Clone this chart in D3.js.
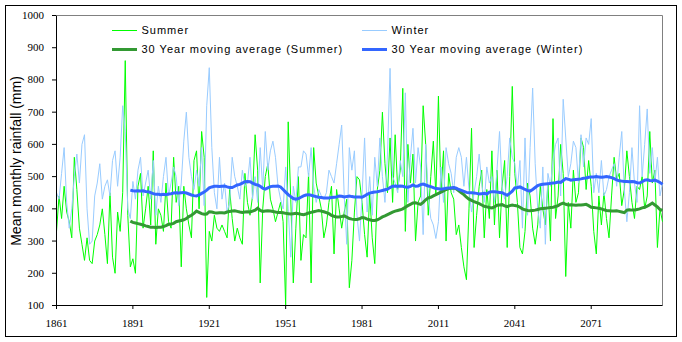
<!DOCTYPE html>
<html><head><meta charset="utf-8">
<script src="https://cdn.jsdelivr.net/npm/d3@7"></script>
<style>body{margin:0;background:#fff}svg{display:block}</style>
</head><body><svg id="c" width="682" height="342"></svg>
<script>
// ---- DATA ----
const firstYear = 1861;          // first category
const maFirstYear = 1890;        // first year of the 30-year moving averages
const xTickLabels = ["1861","1891","1921","1951","1981","2011","2041","2071"];
const yTickValues = [100,200,300,400,500,600,700,800,900,1000];
const seriesNames = ["Summer","Winter","30 Year moving average (Summer)","30 Year moving average (Winter)"];
const yTitle = "Mean monthly rainfall (mm)";

const summer = [
 330,440,370,470,390,360,310,560,460,340,
 290,240,310,240,230,300,320,350,400,320,
 230,450,250,200,390,330,450,860,380,220,
 245,200,470,510,340,400,470,350,580,290,
 400,380,330,480,360,340,560,420,470,220,
 470,400,350,310,550,580,400,640,560,125,
 330,300,380,340,330,350,330,310,460,370,
 300,340,310,290,510,420,380,440,630,520,
 170,400,500,540,430,400,360,390,420,360,
 100,670,430,170,340,500,240,320,310,510,
 170,590,480,440,400,310,350,420,470,260,
 460,400,340,390,430,155,240,390,500,490,
 420,320,250,450,310,230,460,520,700,540,
 450,620,420,630,460,520,774,330,600,480,
 570,300,420,440,720,600,380,500,610,440,
 750,450,580,300,510,450,430,320,350,280,
 220,180,400,650,280,380,470,520,310,460,
 370,580,350,520,310,470,550,280,500,780,
 510,420,280,260,330,480,440,340,290,350,
 470,400,350,480,300,680,370,440,600,510,
 190,420,340,520,420,450,620,590,460,550,
 470,330,260,440,350,450,370,310,440,560,
 490,510,410,460,580,500,420,370,470,460,
 500,400,440,640,480,520,280,400,360
];
const winter = [
 450,430,510,590,420,340,400,500,570,480,
 600,630,400,290,300,440,480,540,430,470,
 490,440,550,580,470,560,720,640,400,370,
 485,430,520,560,440,480,520,430,550,380,
 470,420,500,560,440,480,530,500,410,480,
 610,700,560,500,460,520,470,590,410,720,
 838,590,450,400,560,430,480,390,420,560,
 500,470,430,520,470,480,560,430,500,420,
 590,460,640,520,580,610,560,470,430,400,
 530,400,250,470,420,530,530,580,570,500,
 590,470,420,460,440,430,450,520,500,480,
 540,600,660,440,290,590,520,580,380,300,
 440,620,390,500,380,560,470,620,500,420,
 570,836,500,480,450,550,500,760,420,560,
 650,480,590,530,320,600,440,370,350,308,
 360,530,420,590,540,510,450,560,590,560,
 470,560,460,390,450,500,570,480,420,530,
 480,500,420,520,640,470,430,500,620,560,
 540,460,550,340,620,380,590,775,540,400,
 340,530,290,510,470,550,600,620,440,740,
 620,500,540,610,590,480,630,530,620,600,
 680,450,510,450,550,440,460,500,520,540,
 470,560,640,460,360,450,590,480,420,720,
 500,600,710,510,590,480,560,440,480
];
const summerMA = [
 362,358,356,354,352,350,347,345,343,343,
 342,343,343,345,348,352,353,355,360,362,
 364,366,370,376,380,386,393,389,385,383,
 384,391,390,388,387,388,388,387,390,392,
 393,394,392,390,389,390,391,390,393,396,
 402,395,392,393,394,393,392,390,389,389,
 388,386,385,384,385,386,385,383,382,384,
 387,389,391,393,395,393,391,388,385,380,
 377,375,375,376,378,374,370,368,367,367,
 369,373,372,368,366,364,364,366,370,375,
 378,382,386,390,393,395,397,400,405,410,
 414,418,419,416,414,420,428,434,436,440,
 444,448,452,456,460,463,464,465,462,456,
 450,444,436,430,426,422,419,416,412,408,
 406,404,403,406,411,412,413,409,407,410,
 412,410,409,405,400,397,395,394,395,396,
 398,400,401,402,403,404,405,407,410,415,
 418,414,412,413,412,411,412,412,413,414,
 410,405,404,403,402,400,397,395,394,393,
 393,394,392,390,388,396,397,396,396,398,
 400,403,405,408,413,418,412,406,398,395
];
const winterMA = [
 458,456,455,456,455,456,454,453,450,447,
 445,445,444,445,444,446,447,449,450,449,
 450,451,449,446,443,441,440,443,448,452,
 458,465,468,470,470,469,470,471,468,466,
 466,470,474,476,480,484,485,484,480,476,
 474,470,464,461,465,469,470,470,471,468,
 460,452,444,438,432,430,432,436,440,443,
 444,442,440,438,436,435,434,434,434,435,
 436,437,440,439,437,438,440,438,437,437,
 437,436,440,445,449,451,452,453,455,457,
 459,461,466,470,471,470,471,470,468,467,
 470,474,470,471,475,477,474,471,469,466,
 463,462,461,462,464,465,465,466,464,460,
 457,454,451,450,450,449,448,446,447,448,
 446,452,453,453,452,451,450,446,442,448,
 455,465,466,468,464,460,457,455,460,466,
 472,475,476,477,478,479,480,481,483,482,
 488,494,492,489,490,491,492,493,495,496,
 498,499,499,500,499,498,499,500,499,497,
 494,490,487,486,485,485,484,485,484,481,
 480,484,489,490,488,487,489,486,482,476
];

// ---- CHART ----
const colors = ["#00ff00","#99ccff","#339933","#3366ff"];
const widths = [1,1,3,3];
const svg = d3.select("#c");
const lastYear = firstYear + summer.length - 1;
const x = d3.scaleLinear().domain([firstYear, lastYear]).range([56, 662]);
const y = d3.scaleLinear().domain([100, 1000]).range([305, 15]);

svg.append("rect").attr("x",5.5).attr("y",5.5).attr("width",671).attr("height",331)
  .attr("fill","#fff").attr("stroke","#000").attr("stroke-width",1);

// plot frame (top/right gray)
svg.append("path").attr("d",`M${x(firstYear)+0.5},${y(1000)+0.5}H${x(lastYear)+0.5}V${y(100)+0.5}`)
  .attr("fill","none").attr("stroke","#808080").attr("stroke-width",1);

const toPts = (arr, start) => arr.map((v,i)=>({yr:start+i, v}));
const line = d3.line().x(d=>x(d.yr)+0.5).y(d=>y(d.v)+0.5);
const seriesData = [toPts(summer, firstYear), toPts(winter, firstYear),
                    toPts(summerMA, maFirstYear), toPts(winterMA, maFirstYear)];
seriesData.forEach((d,i)=>{
  svg.append("path").datum(d).attr("d",line).attr("fill","none")
    .attr("stroke",colors[i]).attr("stroke-width",widths[i])
    .attr("stroke-linejoin","miter");
});

// axes
const yAxis = d3.axisLeft(y).tickValues(yTickValues).tickFormat(d3.format("d"))
  .tickSize(4).tickSizeOuter(0).tickPadding(8);
const gy = svg.append("g").attr("transform",`translate(${x(firstYear)},0)`).call(yAxis);
const xAxis = d3.axisBottom(x).tickValues(xTickLabels.map(Number)).tickFormat((d,i)=>xTickLabels[i])
  .tickSize(4).tickSizeOuter(0).tickPadding(10);
const gx = svg.append("g").attr("transform",`translate(0,${y(100)})`).call(xAxis);
[gx,gy].forEach(g=>{
  g.selectAll("path,line").attr("stroke","#000");
  g.selectAll("text").attr("font-family","'Liberation Serif','Times New Roman',serif")
   .attr("font-size",11).attr("fill","#000");
});

// y title
svg.append("text").attr("transform","translate(21,161) rotate(-90)")
  .attr("text-anchor","middle").attr("font-family","'Liberation Sans',Arial,sans-serif")
  .attr("font-size",14).text(yTitle);

// legend
const legPos = [[112,30],[362,30],[112,49],[362,49]];
seriesNames.forEach((n,i)=>{
  const [lx,ly] = legPos[i];
  svg.append("line").attr("x1",lx).attr("x2",lx+25).attr("y1",ly+0.5).attr("y2",ly+0.5)
    .attr("stroke",colors[i]).attr("stroke-width",widths[i]);
  svg.append("text").attr("x",lx+29.5).attr("y",ly).attr("dy","0.36em")
    .attr("font-family","'Liberation Sans',Arial,sans-serif").attr("font-size",11)
    .attr("letter-spacing","1px").text(n);
});
</script></body></html>
